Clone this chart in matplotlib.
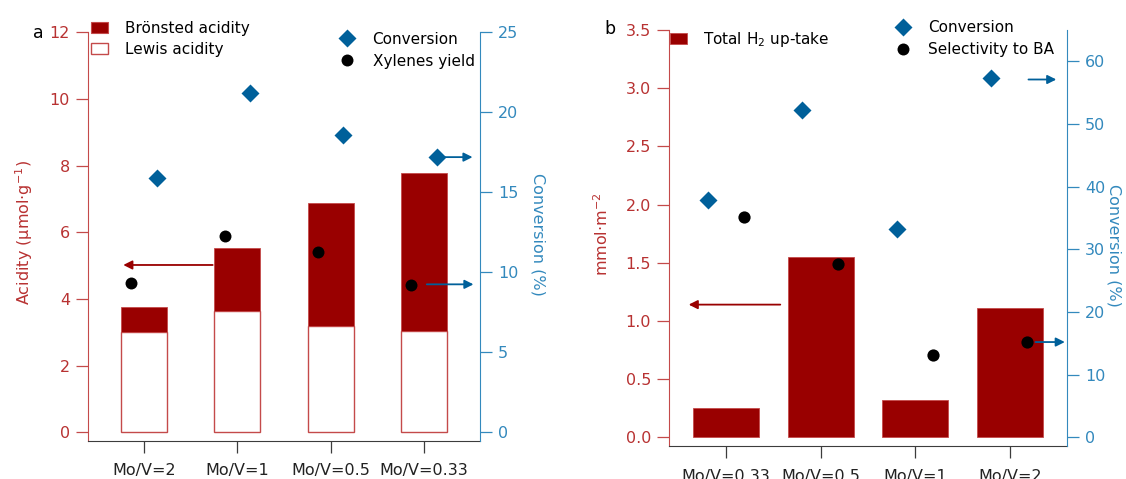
import matplotlib.pyplot as plt
from matplotlib.patches import Patch
from matplotlib.lines import Line2D
import numpy as np

plt.rcParams['font.family'] = ['DejaVu Sans']
plt.rcParams['mathtext.fontset'] = 'dejavusans'

# panel a: acidity and catalytic results
categories_a = ['Mo/V=2', 'Mo/V=1', 'Mo/V=0.5', 'Mo/V=0.33']
lewis_acidity = [3.0, 3.65, 3.2, 3.05]
bronsted_acidity = [0.77, 1.89, 3.68, 4.73]
conversion_a = [15.9, 21.2, 18.6, 17.2]
xylenes_yield = [9.35, 12.3, 11.3, 9.2]

# panel b: hydrogen up-take and catalytic results
categories_b = ['Mo/V=0.33', 'Mo/V=0.5', 'Mo/V=1', 'Mo/V=2']
h2_uptake = [0.25, 1.55, 0.32, 1.11]
conversion_b = [37.8, 52.2, 33.3, 57.4]
selectivity_ba = [35.1, 27.6, 13.1, 15.2]

DARK_RED = '#990000'
RED = '#b83232'
RED_AXIS = '#c44a4a'
BLUE = '#00609a'
BLUE_AXIS = '#3389bd'
GREY = '#3c3c3c'

W, H = 1126, 479


def fxy(x, y):
    # pixel position -> figure fraction
    return x / W, 1 - y / H


def style_axes(ax, ax2, cats):
    ax.spines['top'].set_visible(False)
    ax.spines['right'].set_visible(False)
    ax.spines['left'].set_color(RED_AXIS)
    ax.spines['bottom'].set_color(GREY)
    for s in ['top', 'left', 'bottom']:
        ax2.spines[s].set_visible(False)
    ax2.spines['right'].set_color(BLUE_AXIS)
    ax.tick_params(axis='y', colors=RED_AXIS, labelcolor=RED, direction='out',
                   length=8.5, width=0.9, pad=4.5, labelsize=11.5)
    ax2.tick_params(axis='y', colors=BLUE_AXIS, labelcolor=BLUE_AXIS, direction='out',
                    length=8.5, width=0.9, pad=4.5, labelsize=11.5)
    ax.tick_params(axis='x', colors=GREY, labelcolor='#222222', direction='out',
                   length=8.5, width=0.9, pad=7.5, labelsize=11.5)
    ax.set_xticks(np.arange(len(cats)))
    ax.set_xticklabels(cats)
    ax.set_xlim(-0.6, 3.6)


fig = plt.figure(figsize=(W / 100, H / 100), dpi=100)

# ---------------- panel a ----------------
ax_a = fig.add_axes([88 / W, 1 - 441 / H, 392 / W, 408.7 / H])
ax_a2 = ax_a.twinx()
x_a = np.arange(len(categories_a))

ax_a.bar(x_a, lewis_acidity, width=0.49, color='white', edgecolor=RED_AXIS, linewidth=1.0)
ax_a.bar(x_a, bronsted_acidity, width=0.49, bottom=lewis_acidity, color=DARK_RED,
         edgecolor=RED_AXIS, linewidth=0.6)
ax_a2.plot(x_a + 0.134, conversion_a, 'D', color=BLUE, ms=8.8, mec='none')
ax_a2.plot(x_a - 0.134, xylenes_yield, 'o', color='black', ms=8.6, mec='none')

ax_a.set_ylim(-0.26, 12)
ax_a2.set_ylim(-0.54, 25)
ax_a.set_yticks(np.arange(0, 13, 2))
ax_a2.set_yticks(np.arange(0, 26, 5))
style_axes(ax_a, ax_a2, categories_a)

ax_a.set_ylabel('Acidity (µmol·g$^{-1}$)', color=RED, fontsize=11.5)
ax_a.yaxis.set_label_coords(-0.135, 0.51)
ax_a2.set_ylabel('Conversion (%)', color=BLUE_AXIS, fontsize=11.5, rotation=270, va='bottom')
ax_a2.yaxis.set_label_coords(1.128, 0.505)

arrow_red = dict(arrowstyle='-|>', color=DARK_RED, lw=1.3, mutation_scale=13, shrinkA=0, shrinkB=0)
arrow_blue = dict(arrowstyle='-|>', color=BLUE, lw=1.3, mutation_scale=13, shrinkA=0, shrinkB=0)
ax_a.annotate('', xy=(-0.222, 5.02), xytext=(0.736, 5.02), arrowprops=arrow_red, annotation_clip=False)
ax_a2.annotate('', xy=(3.53, 9.25), xytext=(3.03, 9.25), arrowprops=arrow_blue, annotation_clip=False)
ax_a2.annotate('', xy=(3.52, conversion_a[3]), xytext=(3.226, conversion_a[3]),
               arrowprops=arrow_blue, annotation_clip=False)

fig.legend(
    handles=[Patch(facecolor=DARK_RED, edgecolor=RED_AXIS, lw=0.8),
             Patch(facecolor='white', edgecolor=RED_AXIS, lw=1.0)],
    labels=['Brönsted acidity', 'Lewis acidity'],
    loc='upper left', bbox_to_anchor=fxy(90.7, 20.5), frameon=False, fontsize=11,
    borderpad=0, borderaxespad=0, handlelength=1.15, handleheight=0.76,
    handletextpad=1.09, labelspacing=0.42)
fig.legend(
    handles=[Line2D([], [], ls='none', marker='D', color=BLUE, ms=8.8, mec='none'),
             Line2D([], [], ls='none', marker='o', color='black', ms=8.6, mec='none')],
    labels=['Conversion', 'Xylenes yield'],
    loc='upper left', bbox_to_anchor=fxy(339, 31.5), frameon=False, fontsize=11,
    borderpad=0, borderaxespad=0, handlelength=1.0, handletextpad=1.2, labelspacing=0.48)
fig.text(*fxy(38, 33), 'a', fontsize=12.5, ha='center', va='center', color='black')

# ---------------- panel b ----------------
ax_b = fig.add_axes([669.3 / W, 1 - 446 / H, 397.4 / W, 416 / H])
ax_b2 = ax_b.twinx()
x_b = np.arange(len(categories_b))

ax_b.bar(x_b, h2_uptake, width=0.70, color=DARK_RED, edgecolor=RED_AXIS, linewidth=0.6)
ax_b2.plot(x_b - 0.195, conversion_b, 'D', color=BLUE, ms=9, mec='none')
ax_b2.plot(x_b + 0.185, selectivity_ba, 'o', color='black', ms=8.8, mec='none')

ax_b.set_ylim(-0.075, 3.5)
ax_b2.set_ylim(-1.39, 65)
ax_b.set_yticks(np.arange(0, 3.51, 0.5))
ax_b.set_yticklabels([f'{v:.1f}' for v in np.arange(0, 3.51, 0.5)])
ax_b2.set_yticks(np.arange(0, 61, 10))
style_axes(ax_b, ax_b2, categories_b)
ax_b.tick_params(axis='x', pad=8.0)

ax_b.set_ylabel('mmol·m$^{-2}$', color=RED, fontsize=11.5)
ax_b.yaxis.set_label_coords(-0.147, 0.51)
ax_b2.set_ylabel('Conversion (%)', color=BLUE_AXIS, fontsize=11.5, rotation=270, va='bottom')
ax_b2.yaxis.set_label_coords(1.101, 0.483)

ax_b.annotate('', xy=(-0.395, 1.14), xytext=(0.573, 1.14), arrowprops=arrow_red, annotation_clip=False)
ax_b2.annotate('', xy=(3.58, selectivity_ba[3]), xytext=(3.27, selectivity_ba[3]),
               arrowprops=arrow_blue, annotation_clip=False)
ax_b2.annotate('', xy=(3.49, 57.1), xytext=(3.196, 57.1), arrowprops=arrow_blue, annotation_clip=False)

fig.legend(
    handles=[Patch(facecolor=DARK_RED, edgecolor=RED_AXIS, lw=0.6)],
    labels=['Total H$_2$ up-take'],
    loc='upper left', bbox_to_anchor=fxy(670, 30), frameon=False, fontsize=11,
    borderpad=0, borderaxespad=0, handlelength=1.13, handleheight=0.76, handletextpad=1.0)
fig.legend(
    handles=[Line2D([], [], ls='none', marker='D', color=BLUE, ms=9, mec='none'),
             Line2D([], [], ls='none', marker='o', color='black', ms=8.6, mec='none')],
    labels=['Conversion', 'Selectivity to BA'],
    loc='upper left', bbox_to_anchor=fxy(895.6, 20), frameon=False, fontsize=11,
    borderpad=0, borderaxespad=0, handlelength=1.0, handletextpad=1.1, labelspacing=0.48)
fig.text(*fxy(610, 29), 'b', fontsize=12.5, ha='center', va='center', color='black')

fig.savefig('out.png', dpi=100)
